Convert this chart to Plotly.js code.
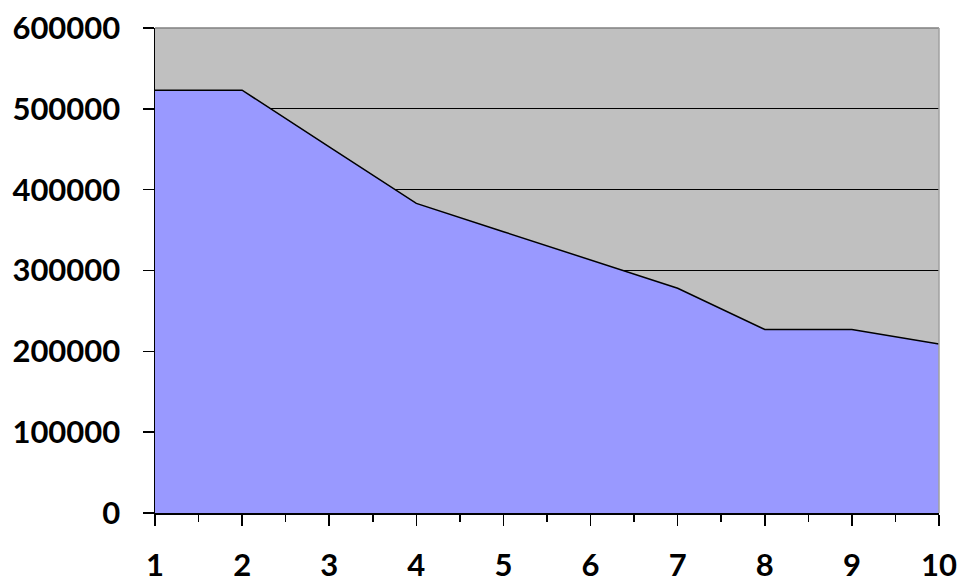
<!DOCTYPE html>
<html>
<head>
<meta charset="utf-8">
<script src="https://cdn.plot.ly/plotly-3.0.1.min.js"></script>
<style>html,body{margin:0;padding:0;background:#fff;}#chart{width:963px;height:588px;}</style>
</head>
<body>
<div id="chart"></div>
<script>
const xValues = [1, 2, 3, 4, 5, 6, 7, 8, 9, 10];
const yValues = [523000, 523000, 453000, 383000, 348000, 313000, 278000, 227000, 227000, 209000];
const yTickVals = [0, 100000, 200000, 300000, 400000, 500000, 600000];
const xTickVals = [1, 2, 3, 4, 5, 6, 7, 8, 9, 10];

const tickFont = {family: "Lato, 'Liberation Sans', sans-serif", size: 31, color: '#000', weight: 'bold'};

const trace = {
  x: xValues,
  y: yValues,
  type: 'scatter',
  mode: 'lines',
  fill: 'tozeroy',
  fillcolor: '#9999FF',
  line: {color: '#000', width: 1.5},
  hoverinfo: 'skip'
};

const layout = {
  width: 963,
  height: 588,
  margin: {l: 155, r: 24, t: 28, b: 75},
  paper_bgcolor: '#ffffff',
  plot_bgcolor: '#C0C0C0',
  showlegend: false,
  xaxis: {
    range: [1, 10],
    tickvals: xTickVals,
    ticktext: xTickVals.map(String),
    ticks: 'outside',
    ticklen: 11,
    tickwidth: 1.5,
    tickcolor: '#000',
    showgrid: false,
    zeroline: false,
    showline: true,
    linecolor: '#000',
    linewidth: 1.5,
    tickfont: tickFont,
    ticklabelstandoff: 13,
    minor: {dtick: 0.5, tick0: 1, ticks: 'outside', ticklen: 7, tickwidth: 1.5, tickcolor: '#000', showgrid: false}
  },
  yaxis: {
    range: [0, 600000],
    tickvals: yTickVals,
    ticktext: yTickVals.map(String),
    ticks: 'outside',
    ticklen: 11,
    tickwidth: 1.5,
    tickcolor: '#000',
    showgrid: true,
    gridcolor: '#000',
    gridwidth: 1.2,
    zeroline: false,
    showline: true,
    linecolor: '#000',
    linewidth: 1.5,
    tickfont: tickFont,
    ticklabelstandoff: 16
  },
  shapes: [
    {type: 'line', xref: 'paper', yref: 'paper', x0: 0, x1: 1, y0: 1, y1: 1, line: {color: '#808080', width: 1.5}},
    {type: 'line', xref: 'paper', yref: 'paper', x0: 1, x1: 1, y0: 0, y1: 1, line: {color: '#A0A0A0', width: 1.5}}
  ]
};

Plotly.newPlot('chart', [trace], layout, {displayModeBar: false, staticPlot: true});
</script>
</body>
</html>
